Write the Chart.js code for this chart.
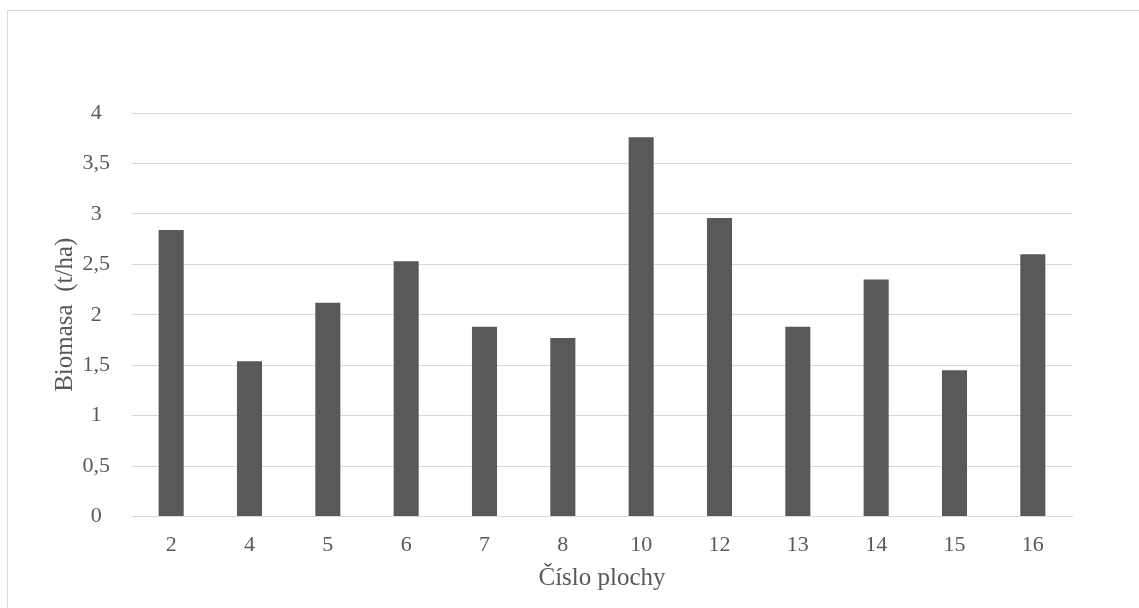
<!DOCTYPE html>
<html>
<head>
<meta charset="utf-8">
<script src="https://cdn.jsdelivr.net/npm/chart.js@4"></script>
<style>
  html, body { margin: 0; padding: 0; background: #ffffff; }
  #wrap { position: relative; width: 1139px; height: 608px; overflow: hidden; background: #ffffff; }
  #frame { position: absolute; left: 7px; top: 10px; width: 1200px; height: 700px; border: 1.5px solid #d9d9d9; box-sizing: border-box; }
  #c { position: absolute; left: 0; top: 0; }
</style>
</head>
<body>
<div id="wrap">
  <div id="frame"></div>
  <canvas id="c" width="1139" height="608"></canvas>
</div>
<script>
const categories = ['2', '4', '5', '6', '7', '8', '10', '12', '13', '14', '15', '16'];
const biomass = [2.84, 1.54, 2.12, 2.53, 1.88, 1.77, 3.76, 2.96, 1.88, 2.35, 1.45, 2.60];
const yTickValues = [0, 0.5, 1, 1.5, 2, 2.5, 3, 3.5, 4];
const yTickLabels = ['0', '0,5', '1', '1,5', '2', '2,5', '3', '3,5', '4'];
const xTitle = 'Číslo plochy';
const yTitle = 'Biomasa  (t/ha)';

const textColor = '#595959';
const fontFamily = '"Liberation Serif", "Times New Roman", serif';

new Chart(document.getElementById('c'), {
  type: 'bar',
  data: {
    labels: categories,
    datasets: [{
      data: biomass,
      backgroundColor: '#595959',
      borderWidth: 0,
      barPercentage: 0.32,
      categoryPercentage: 1.0
    }]
  },
  options: {
    responsive: false,
    animation: false,
    devicePixelRatio: 1,
    layout: { padding: { left: 0, right: 67, top: 113, bottom: 0 } },
    plugins: { legend: { display: false }, tooltip: { enabled: false } },
    scales: {
      x: {
        grid: { display: false, drawTicks: false },
        border: { display: true, color: '#d9d9d9', width: 1 },
        ticks: { color: textColor, font: { family: fontFamily, size: 22 }, padding: 16, maxRotation: 0 },
        title: { display: true, text: xTitle, color: textColor, font: { family: fontFamily, size: 25 }, padding: { top: 0, bottom: 15 } },
        afterFit: (s) => { s.height = 91.5; }
      },
      y: {
        min: 0, max: 4,
        grid: { color: '#d9d9d9', lineWidth: 1, drawTicks: false },
        border: { display: false },
        ticks: {
          stepSize: 0.5,
          color: textColor,
          font: { family: fontFamily, size: 22 },
          padding: 22,
          crossAlign: 'center',
          callback: (v) => { const i = yTickValues.indexOf(v); return i >= 0 ? yTickLabels[i] : ''; }
        },
        title: { display: true, text: yTitle, color: textColor, font: { family: fontFamily, size: 25 }, padding: { top: 50, bottom: 0 } },
        afterFit: (s) => { s.width = 132; }
      }
    }
  }
});
</script>
</body>
</html>
